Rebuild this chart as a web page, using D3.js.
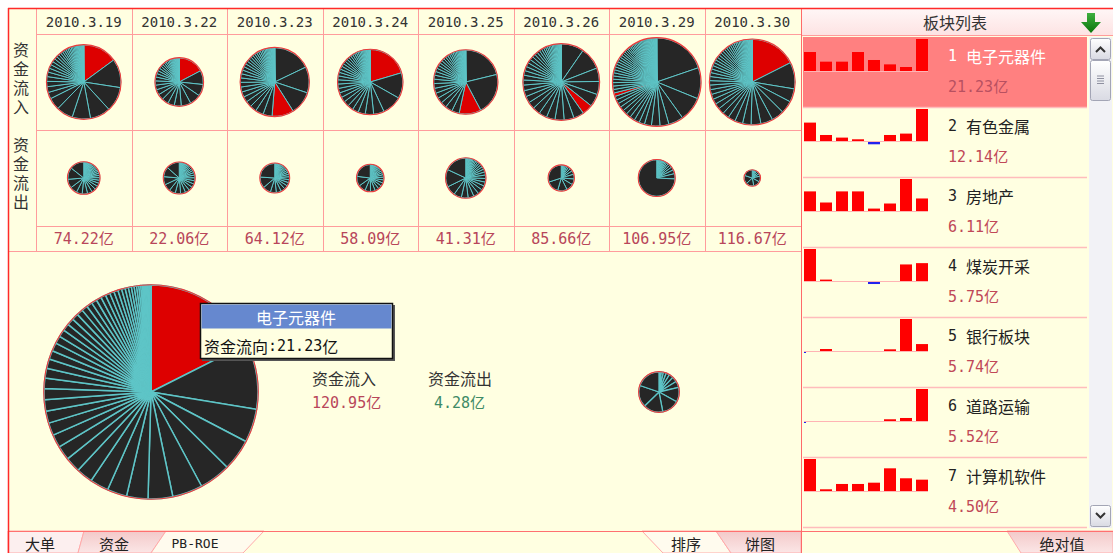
<!DOCTYPE html>
<html><head><meta charset="utf-8">
<script src="https://cdn.jsdelivr.net/npm/d3@7"></script>
<style>
body{margin:0;background:#fff}
svg{display:block}
.cjk{font-family:"Noto Sans CJK SC","Noto Sans",sans-serif}
.mono{font-family:"DejaVu Sans Mono","Noto Sans CJK SC",monospace}
</style>
</head><body>
<svg id="c" width="1113" height="553"></svg>
<script>
// ---------------- data ----------------
const dates = ["2010.3.19","2010.3.22","2010.3.23","2010.3.24","2010.3.25","2010.3.26","2010.3.29","2010.3.30"];
const inTotals  = [91.28, 38.46, 78.37, 70.19, 67.79, 96.68, 129.05, 120.95];
const outTotals = [17.06, 16.40, 14.25, 12.10, 26.48, 11.02, 22.10, 4.28];
const netFlow   = [74.22, 22.06, 64.12, 58.09, 41.31, 85.66, 106.95, 116.67];
const electronicsRank = [0, 0, 3, 0, 2, 5, 16, 0];

const in0319 = [13.6,11.4,9.8,8.1,7.3,6.6,4.8,2.6,2.3,2.1,1.9,1.8,1.6,1.5,1.4,1.3,1.2,1.1,1.0,0.9,0.85,0.8,0.75,0.7,0.65,0.6,0.55,0.5,0.45,0.4,0.35,0.3,0.28,0.25,0.22,0.2,0.18,0.16,0.14,0.12,0.1,0.08,0.06,0.05,0.04,0.03,0.02];
const in0322 = [6.6,3.6,3.0,2.9,2.5,1.8,1.7,1.7,1.5,1.35,1.2,1.1,1.0,0.9,0.8,0.72,0.65,0.6,0.55,0.5,0.45,0.4,0.36,0.32,0.28,0.25,0.22,0.2,0.18,0.16,0.14,0.12,0.1,0.08,0.07,0.06,0.05,0.04,0.03,0.02];
const in0323 = [13.8,9.45,8.4,7.9,3.3,2.9,2.4,2.2,2.0,1.9,1.8,1.7,1.6,1.5,1.4,1.3,1.2,1.1,1.0,0.95,0.9,0.85,0.8,0.75,0.7,0.65,0.6,0.55,0.5,0.45,0.4,0.35,0.3,0.27,0.24,0.21,0.18,0.15,0.12,0.1,0.08,0.06,0.05,0.04,0.03,0.02];
const in0324 = [13.65,8.5,6.6,3.5,2.8,2.4,2.0,1.9,1.8,1.7,1.6,1.5,1.45,1.4,1.3,1.2,1.1,1.05,1.0,0.95,0.9,0.85,0.8,0.75,0.7,0.65,0.6,0.55,0.5,0.45,0.4,0.35,0.3,0.27,0.24,0.21,0.18,0.15,0.12,0.1,0.08,0.06,0.05,0.04,0.03,0.02];
const in0325 = [13.4,13.3,7.0,2.4,2.3,1.9,1.8,1.7,1.6,1.5,1.4,1.3,1.2,1.1,1.0,0.95,0.9,0.85,0.8,0.75,0.7,0.65,0.6,0.55,0.5,0.45,0.4,0.35,0.3,0.27,0.24,0.21,0.18,0.15,0.12,0.1,0.08,0.06,0.05,0.04,0.03,0.02];
const in0326 = [8.97,8.8,5.3,5.2,5.0,4.2,4.1,3.9,3.6,3.4,3.2,3.0,2.8,2.6,2.4,2.2,2.0,1.9,1.8,1.7,1.6,1.5,1.4,1.3,1.2,1.1,1.0,0.9,0.8,0.75,0.7,0.65,0.6,0.55,0.5,0.45,0.4,0.35,0.3,0.25,0.2,0.16,0.12,0.1,0.08,0.06,0.04,0.02];
const in0329 = [24.6,14.2,11.1,6.8,4.1,3.9,3.2,2.5,2.4,2.3,2.2,2.1,2.0,1.9,1.8,1.7,1.6,1.58,1.57,1.56,1.55,1.5,1.45,1.4,1.35,1.3,1.25,1.2,1.15,1.1,1.05,1.0,0.95,0.9,0.85,0.8,0.78,0.75,0.72,0.7,0.68,0.65,0.62,0.6,0.58,0.55,0.52,0.5,0.48,0.45,0.42,0.4,0.38,0.35,0.32,0.3,0.28,0.25,0.22,0.2,0.18,0.16,0.14,0.12,0.1,0.08,0.06,0.04,0.02];
const in0330 = [21.23,12.14,6.11,5.75,5.74,5.52,4.50,3.9,3.6,3.4,3.0,2.8,2.6,2.4,2.3,2.2,2.1,2.0,1.9,1.8,1.7,1.6,1.5,1.4,1.35,1.3,1.25,1.2,1.15,1.1,1.05,1.0,0.95,0.9,0.85,0.8,0.75,0.7,0.65,0.6,0.55,0.5,0.45,0.4,0.35,0.3,0.27,0.24,0.21,0.18,0.15,0.12,0.1,0.08,0.06,0.05,0.04,0.03,0.02];

const out0319 = [0.01,0.02,0.03,0.04,0.05,0.06,0.07,0.08,0.09,0.1,0.11,0.12,0.13,0.14,0.15,0.16,0.18,0.2,0.22,0.24,0.26,0.28,0.3,0.33,0.36,0.4,0.45,0.5,0.55,0.6,0.7,0.8,0.9,1.0,1.2,1.5,2.0,2.4];
const out0322 = [0.01,0.02,0.03,0.04,0.05,0.06,0.07,0.08,0.1,0.12,0.14,0.16,0.18,0.2,0.22,0.25,0.28,0.31,0.34,0.38,0.42,0.46,0.5,0.55,0.6,0.66,0.72,0.8,0.9,1.0,1.15,1.3,1.5,1.8,2.4];
const out0323 = [0.01,0.02,0.03,0.04,0.05,0.06,0.07,0.08,0.09,0.1,0.12,0.14,0.16,0.18,0.2,0.22,0.24,0.27,0.3,0.33,0.36,0.4,0.45,0.5,0.55,0.6,0.7,0.8,0.95,1.3,1.8,3.5];
const out0324 = [0.01,0.02,0.03,0.04,0.05,0.06,0.07,0.08,0.1,0.12,0.14,0.16,0.18,0.2,0.22,0.25,0.28,0.31,0.34,0.38,0.42,0.46,0.5,0.55,0.6,0.7,0.85,1.1,1.5,2.9];
const out0325 = [0.01,0.02,0.03,0.05,0.07,0.09,0.11,0.13,0.15,0.18,0.21,0.24,0.27,0.3,0.34,0.38,0.42,0.46,0.5,0.55,0.6,0.65,0.7,0.76,0.82,0.9,1.0,1.1,1.2,1.4,1.6,2.0,3.6,4.6];
const out0326 = [0.02,0.04,0.06,0.08,0.1,0.13,0.16,0.2,0.25,0.3,0.4,0.5,0.65,0.8,1.0,1.3,1.7,3.3];
const out0329 = [0.01,0.02,0.03,0.04,0.05,0.06,0.08,0.1,0.12,0.14,0.16,0.18,0.2,0.23,0.26,0.3,0.35,0.4,0.5,0.6,0.75,1.0,16.0];
const out0330 = [0.03,0.05,0.07,0.1,0.12,0.15,0.18,0.22,0.5,0.6,0.68,0.75,0.85];

const inSlices  = [in0319,in0322,in0323,in0324,in0325,in0326,in0329,in0330];
const outSlices = [out0319,out0322,out0323,out0324,out0325,out0326,out0329,out0330];

const listNames  = ["电子元器件","有色金属","房地产","煤炭开采","银行板块","道路运输","计算机软件"];
const listValues = [21.23, 12.14, 6.11, 5.75, 5.74, 5.52, 4.50];
const spark1 = [12.6, 6.2, 6.2, 12.6, 7.3, 4.4, 2.65, 21.23];
const spark2 = [6.98, 2.28, 1.29, 0.65, -0.87, 2.28, 2.81, 12.14];
const spark3 = [9.56, 4.14, 9.56, 9.56, 1.18, 3.65, 15.6, 6.11];
const spark4 = [10.3, 0.45, 0, 0, -0.65, 0, 5.33, 5.75];
const spark5 = [-0.3, 1.64, 0, 0, 0, 1.4, 26.5, 5.74];
const spark6 = [-0.05, 0, 0, 0, 0, 0.3, 0.52, 5.52];
const spark7 = [12.7, 0.68, 2.79, 2.79, 3.3, 9.0, 5.05, 4.50];
const sparks = [spark1,spark2,spark3,spark4,spark5,spark6,spark7];

const rowLabels = ["资金流入","资金流出"];
const tipTitle = "电子元器件";
const tipLabel = "资金流向:";
const tipValue = 21.23;
const bigIndex = 7;
const leftTabs = ["大单","资金","PB-ROE"];
const rightTabs = ["排序","饼图"];
const panelTitle = "板块列表";
const panelTab = "绝对值";

// ---------------- drawing ----------------
const svg = d3.select("#c");
const BG = "#ffffe1", GRID = "#ff9c9c", RED = "#ff2a2a";
const CYAN = "#5ec5c7", DARK = "#262626", SEL = "#dd0000";

const defs = svg.append("defs");
function grad(id, c1, c2){
  const g = defs.append("linearGradient").attr("id", id).attr("x1",0).attr("y1",0).attr("x2",0).attr("y2",1);
  g.append("stop").attr("offset","0%").attr("stop-color",c1);
  g.append("stop").attr("offset","100%").attr("stop-color",c2);
}
grad("tabSel", "#f3c9c9", "#fbe6e6");
grad("hdr", "#fff6f6", "#fde3e3");
grad("btn", "#ffffff", "#d9dae3");
grad("arrow", "#3fb03f", "#0b740b");

svg.append("rect").attr("x",8).attr("y",8).attr("width",1105).attr("height",545).attr("fill",BG);

const colX = d3.scaleBand().domain(dates).range([36, 800]);
const bw = colX.bandwidth();
const rSmall = d3.scaleSqrt().domain([0, 130]).range([0, 44.2]);
const rBig = d3.scaleSqrt().domain([0, 130]).range([0, 110.9]);
const pie = d3.pie().sort(null).value(d => d);

function drawPie(g, vals, total, rScale, redIdx, sw){
  const r = rScale(total);
  const arcs = pie(vals);
  const arc = d3.arc().innerRadius(0).outerRadius(r);
  g.selectAll("path.s").data(arcs).join("path").attr("class","s")
    .attr("d", arc)
    .attr("fill", (d,i) => i === redIdx ? SEL : DARK)
    .attr("stroke", CYAN).attr("stroke-width", sw).attr("stroke-linejoin","round");
  g.append("circle").attr("r", r + 0.3).attr("fill","none").attr("stroke","#f03a3a").attr("stroke-width",1.1);
}

// top table grid
const grid = svg.append("g").attr("stroke", GRID).attr("stroke-width",1).attr("shape-rendering","crispEdges");
[34, 130, 226].forEach(y => grid.append("line").attr("x1",36).attr("x2",801).attr("y1",y+0.5).attr("y2",y+0.5));
grid.append("line").attr("x1",8).attr("x2",801).attr("y1",251.5).attr("y2",251.5);
grid.append("line").attr("x1",36.5).attr("x2",36.5).attr("y1",9).attr("y2",251);
dates.slice(1).forEach(d => { const x = Math.round(colX(d))+0.5; grid.append("line").attr("x1",x).attr("x2",x).attr("y1",9).attr("y2",251); });

// date headers
svg.append("g").selectAll("text").data(dates).join("text").attr("class","mono")
  .attr("x", d => colX(d)+bw/2).attr("y", 22).attr("text-anchor","middle").attr("dominant-baseline","central")
  .attr("font-size",14).attr("fill","#333").text(d => d);

// row labels (vertical writing)
rowLabels.forEach((lab, k) => {
  svg.append("text").attr("class","cjk")
    .attr("x", 21).attr("y", k === 0 ? 42 : 137)
    .attr("writing-mode","tb").style("writing-mode","vertical-rl")
    .attr("letter-spacing", 3)
    .attr("font-size",16).attr("fill","#333").text(lab);
});

// small pies
dates.forEach((d, i) => {
  const cx = colX(d)+bw/2;
  drawPie(svg.append("g").attr("transform",`translate(${cx},82)`), inSlices[i], inTotals[i], rSmall, electronicsRank[i], 1);
  drawPie(svg.append("g").attr("transform",`translate(${cx},178)`), outSlices[i], outTotals[i], rSmall, -1, 1);
});

// net values
svg.append("g").selectAll("text").data(netFlow).join("text").attr("class","mono")
  .attr("x", (v,i) => colX(dates[i])+bw/2).attr("y", 239).attr("text-anchor","middle").attr("dominant-baseline","central")
  .attr("font-size",15).attr("fill","#b8465a").text(v => v.toFixed(2) + "亿");

// big pies
drawPie(svg.append("g").attr("transform","translate(151,392)"), inSlices[bigIndex], inTotals[bigIndex], rBig, electronicsRank[bigIndex], 1.5);
drawPie(svg.append("g").attr("transform","translate(659,392)"), outSlices[bigIndex], outTotals[bigIndex], rBig, -1, 1.3);

// middle labels
svg.append("text").attr("class","cjk").attr("x",312).attr("y",378).attr("dominant-baseline","central").attr("font-size",16).attr("fill","#333").text(rowLabels[0]);
svg.append("text").attr("class","mono").attr("x",312).attr("y",403).attr("dominant-baseline","central").attr("font-size",15).attr("fill","#b8465a").text(inTotals[bigIndex].toFixed(2)+"亿");
svg.append("text").attr("class","cjk").attr("x",428).attr("y",378).attr("dominant-baseline","central").attr("font-size",16).attr("fill","#333").text(rowLabels[1]);
svg.append("text").attr("class","mono").attr("x",434).attr("y",403).attr("dominant-baseline","central").attr("font-size",15).attr("fill","#3e8a66").text(outTotals[bigIndex].toFixed(2)+"亿");

// tooltip
const tip = svg.append("g");
tip.append("rect").attr("x",202).attr("y",305).attr("width",193).attr("height",56).attr("fill","#555");
tip.append("rect").attr("x",200.5).attr("y",303.5).attr("width",192).attr("height",55).attr("fill","#ffffe1").attr("stroke","#111").attr("stroke-width",1.5);
tip.append("rect").attr("x",201.5).attr("y",304.5).attr("width",190).attr("height",24).attr("fill","#6688cf");
tip.append("text").attr("class","cjk").attr("x",296).attr("y",317).attr("text-anchor","middle").attr("dominant-baseline","central").attr("font-size",16).attr("fill","#fff").text(tipTitle);
const tt = tip.append("text").attr("x",204).attr("y",346).attr("dominant-baseline","central").attr("font-size",16).attr("fill","#111");
tt.append("tspan").attr("class","cjk").text(tipLabel.slice(0,4));
tt.append("tspan").attr("class","mono").attr("font-size",15).text(tipLabel.slice(4) + tipValue.toFixed(2));
tt.append("tspan").attr("class","cjk").text("亿");

// ---------------- right panel ----------------
svg.append("rect").attr("x",801).attr("y",9).attr("width",312).attr("height",26).attr("fill","url(#hdr)");
svg.append("line").attr("x1",801).attr("x2",1113).attr("y1",35.5).attr("y2",35.5).attr("stroke",GRID);
svg.append("text").attr("class","cjk").attr("x",955).attr("y",22).attr("text-anchor","middle").attr("dominant-baseline","central").attr("font-size",16).attr("fill","#333").text(panelTitle);
svg.append("path").attr("d","M1087,13 H1095 V22 H1101 L1091,33 L1081,22 H1087 Z").attr("fill","url(#arrow)");

const itemTop = d3.scaleLinear().domain([0,1]).range([37,107]);
const sx = d3.scaleBand().domain(d3.range(8)).range([804, 928]).paddingInner(0.25).paddingOuter(0);
listNames.forEach((name, i) => {
  const t = itemTop(i);
  const g = svg.append("g");
  if (i === 0) g.append("rect").attr("x",803).attr("y",t).attr("width",284).attr("height",70).attr("fill","#ff8080");
  g.append("line").attr("x1",803).attr("x2",1087).attr("y1",t+70.5).attr("y2",t+70.5).attr("stroke","#ffbcbc").attr("stroke-width",1.5);
  const vals = sparks[i];
  const maxAbs = d3.max(vals, v => Math.abs(v));
  const h = d3.scaleLinear().domain([0, maxAbs]).range([0, 32]);
  const base = t + 34;
  g.append("line").attr("x1",804).attr("x2",928).attr("y1",base+0.5).attr("y2",base+0.5).attr("stroke","#ffb4b4").attr("stroke-width",1);
  g.selectAll("rect.b").data(vals.map((v,j)=>({v,j})).filter(d => d.v !== 0)).join("rect").attr("class","b")
    .attr("x", d => sx(d.j)).attr("width", d => (d.v < 0 && h(-d.v) < 1) ? 2 : sx.bandwidth())
    .attr("y", d => d.v > 0 ? base - Math.max(1, h(d.v)) : base + 1)
    .attr("height", d => Math.max(1, h(Math.abs(d.v))))
    .attr("fill", d => d.v > 0 ? "#ff0000" : "#2222ee");
  g.append("text").attr("x",948).attr("y",t+19).attr("dominant-baseline","central").attr("font-size",16)
    .attr("fill", i === 0 ? "#fff" : "#222")
    .call(s => { s.append("tspan").attr("class","mono").attr("font-size",15).text((i+1) + " "); s.append("tspan").attr("class","cjk").text(name); });
  g.append("text").attr("class","mono").attr("x",948).attr("y",t+50).attr("dominant-baseline","central").attr("font-size",15)
    .attr("fill", i === 0 ? "#b85060" : "#c04858").text(listValues[i].toFixed(2) + "亿");
});

// scrollbar
svg.append("rect").attr("x",1089).attr("y",37).attr("width",23).attr("height",491).attr("fill","#f2f2f6");
function btn(y, h){ svg.append("rect").attr("x",1090.5).attr("y",y+0.5).attr("width",20).attr("height",h).attr("rx",2).attr("fill","url(#btn)").attr("stroke","#a3a5b5"); }
btn(38, 21); btn(60, 40); btn(505, 21);
svg.append("path").attr("d","M1096,52 L1100.5,47.5 L1105,52").attr("fill","none").attr("stroke","#333").attr("stroke-width",2);
svg.append("path").attr("d","M1096,513 L1100.5,517.5 L1105,513").attr("fill","none").attr("stroke","#333").attr("stroke-width",2);
[76,78.5,81,83.5].forEach(y => svg.append("line").attr("x1",1097).attr("x2",1104).attr("y1",y).attr("y2",y).attr("stroke","#8e90a0"));

// ---------------- bottom tabs ----------------
const tabShapes = [
  {pts:[[8,531],[84,531],[78,553],[8,553]], fill:"#fcefef", label:leftTabs[0], x:40, mono:false},
  {pts:[[84,531],[166,531],[151,553],[78,553]], fill:"url(#tabSel)", label:leftTabs[1], x:114, mono:false},
  {pts:[[166,531],[264,531],[243,553],[151,553]], fill:"#fffbee", label:leftTabs[2], x:195, mono:true},
  {pts:[[642,531],[716,531],[731,553],[663,553]], fill:"#fffbee", label:rightTabs[0], x:686, mono:false},
  {pts:[[716,531],[801,531],[801,553],[731,553]], fill:"url(#tabSel)", label:rightTabs[1], x:760, mono:false},
  {pts:[[1007,531],[1113,531],[1113,553],[1021,553]], fill:"url(#tabSel)", label:panelTab, x:1062, mono:false}
];
tabShapes.forEach(t => {
  svg.append("polygon").attr("points", t.pts.map(p=>p.join(",")).join(" ")).attr("fill", t.fill).attr("stroke","#ffaaaa");
  svg.append("text").attr("class", t.mono ? "mono" : "cjk").attr("x",t.x).attr("y",543).attr("text-anchor","middle")
    .attr("dominant-baseline","central").attr("font-size", t.mono ? 13 : 15).attr("fill","#222").text(t.label);
});

// frame lines
svg.append("line").attr("x1",8).attr("x2",1113).attr("y1",531.5).attr("y2",531.5).attr("stroke","#ff7070");
svg.append("line").attr("x1",801.5).attr("x2",801.5).attr("y1",9).attr("y2",553).attr("stroke","#ff6a6a");
svg.append("line").attr("x1",8).attr("x2",1113).attr("y1",8.5).attr("y2",8.5).attr("stroke",RED).attr("stroke-width",1.5);
svg.append("line").attr("x1",8.5).attr("x2",8.5).attr("y1",8).attr("y2",553).attr("stroke",RED).attr("stroke-width",1.5);
</script>
</body></html>
